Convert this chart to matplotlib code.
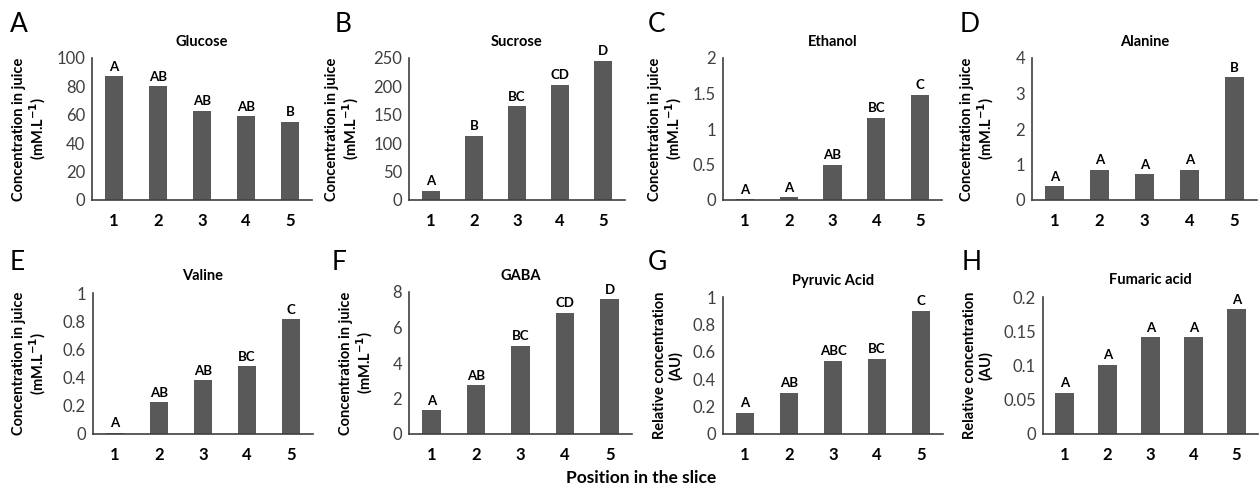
import numpy as np
import matplotlib
matplotlib.use("Agg")
import matplotlib.pyplot as plt

plt.rcParams['font.family'] = ['Lato', 'DejaVu Sans']

positions = [1, 2, 3, 4, 5]
pos_labels = ['1', '2', '3', '4', '5']

letters = ['A', 'B', 'C', 'D', 'E', 'F', 'G', 'H']
titles = ['Glucose', 'Sucrose', 'Ethanol', 'Alanine',
          'Valine', 'GABA', 'Pyruvic Acid', 'Fumaric acid']

glucose = [87, 80, 63, 59, 55]
sucrose = [16, 113, 165, 203, 245]
ethanol = [0.01, 0.04, 0.5, 1.16, 1.48]
alanine = [0.39, 0.85, 0.73, 0.85, 3.46]
valine = [0.01, 0.225, 0.38, 0.48, 0.815]
gaba = [1.33, 2.75, 4.97, 6.84, 7.58]
pyruvic = [0.155, 0.30, 0.536, 0.55, 0.90]
fumaric = [0.060, 0.101, 0.141, 0.141, 0.182]
values = [glucose, sucrose, ethanol, alanine, valine, gaba, pyruvic, fumaric]

groups = [['A', 'AB', 'AB', 'AB', 'B'],
          ['A', 'B', 'BC', 'CD', 'D'],
          ['A', 'A', 'AB', 'BC', 'C'],
          ['A', 'A', 'A', 'A', 'B'],
          ['A', 'AB', 'AB', 'BC', 'C'],
          ['A', 'AB', 'BC', 'CD', 'D'],
          ['A', 'AB', 'ABC', 'BC', 'C'],
          ['A', 'A', 'A', 'A', 'A']]

yticks = [[0, 20, 40, 60, 80, 100],
          [0, 50, 100, 150, 200, 250],
          [0, 0.5, 1, 1.5, 2],
          [0, 1, 2, 3, 4],
          [0, 0.2, 0.4, 0.6, 0.8, 1],
          [0, 2, 4, 6, 8],
          [0, 0.2, 0.4, 0.6, 0.8, 1],
          [0, 0.05, 0.1, 0.15, 0.2]]
ytick_labels = [['0', '20', '40', '60', '80', '100'],
                ['0', '50', '100', '150', '200', '250'],
                ['0', '0.5', '1', '1.5', '2'],
                ['0', '1', '2', '3', '4'],
                ['0', '0.2', '0.4', '0.6', '0.8', '1'],
                ['0', '2', '4', '6', '8'],
                ['0', '0.2', '0.4', '0.6', '0.8', '1'],
                ['0', '0.05', '0.1', '0.15', '0.2']]

conc = 'Concentration in juice\n(mM.L$^{\\mathbf{-1}}$)'
rel = 'Relative concentration\n(AU)'
ylabels = [conc, conc, conc, conc, conc, conc, rel, rel]

# axes boxes in pixels: left, right, top, bottom
W, H = 1260, 492
boxes = [(92, 312, 58, 200), (409, 625, 58, 200), (723, 942, 58, 200), (1032, 1257, 58, 200),
         (93, 313, 293, 434), (409, 632, 292, 434), (723, 943, 297, 434), (1043, 1258, 297, 434)]
label_x = [30, 343, 666, 978, 30, 357, 668, 978]
letter_xy = [(10, 24), (335, 24), (648, 24), (960, 24),
             (10, 262), (332, 262), (648, 262), (962, 262)]

bar_color = '#595959'

fig = plt.figure(figsize=(12.6, 4.92), dpi=100)

for i in range(8):
    l, r, t, b = boxes[i]
    ax = fig.add_axes([l / W, (H - b) / H, (r - l) / W, (b - t) / H])
    ax.bar(positions, values[i], width=0.42, color=bar_color)
    ymax = yticks[i][-1]
    ax.set_xlim(0.5, 5.5)
    ax.set_ylim(0, ymax)
    ax.set_xticks(positions)
    ax.set_xticklabels(pos_labels, fontweight='bold', fontsize=12)
    ax.set_yticks(yticks[i])
    ax.set_yticklabels(ytick_labels[i], fontsize=12, color='#404040')
    ax.tick_params(length=0, pad=5)
    ax.tick_params(axis='x', pad=9)
    for s in ['top', 'right']:
        ax.spines[s].set_visible(False)
    for s in ['left', 'bottom']:
        ax.spines[s].set_color('#404040')
        ax.spines[s].set_linewidth(1.2)
    for x, v, g in zip(positions, values[i], groups[i]):
        ax.text(x, v + ymax * 0.025, g, ha='center', va='bottom',
                fontsize=9.5, fontweight='bold')
    ax.set_title(titles[i], fontsize=10.5, fontweight='bold', pad=9)
    ax.set_ylabel(ylabels[i], fontsize=10.5, fontweight='bold', va='center',
                  linespacing=1.1)
    ax.yaxis.set_label_coords((label_x[i] - l) / (r - l), 0.5)
    lx, ly = letter_xy[i]
    fig.text(lx / W, 1 - ly / H, letters[i], fontsize=19, va='center', ha='left')

fig.text(641 / W, 1 - 478 / H, 'Position in the slice', ha='center', va='center',
         fontsize=12.5, fontweight='bold')

fig.savefig('out.png', dpi=100)
